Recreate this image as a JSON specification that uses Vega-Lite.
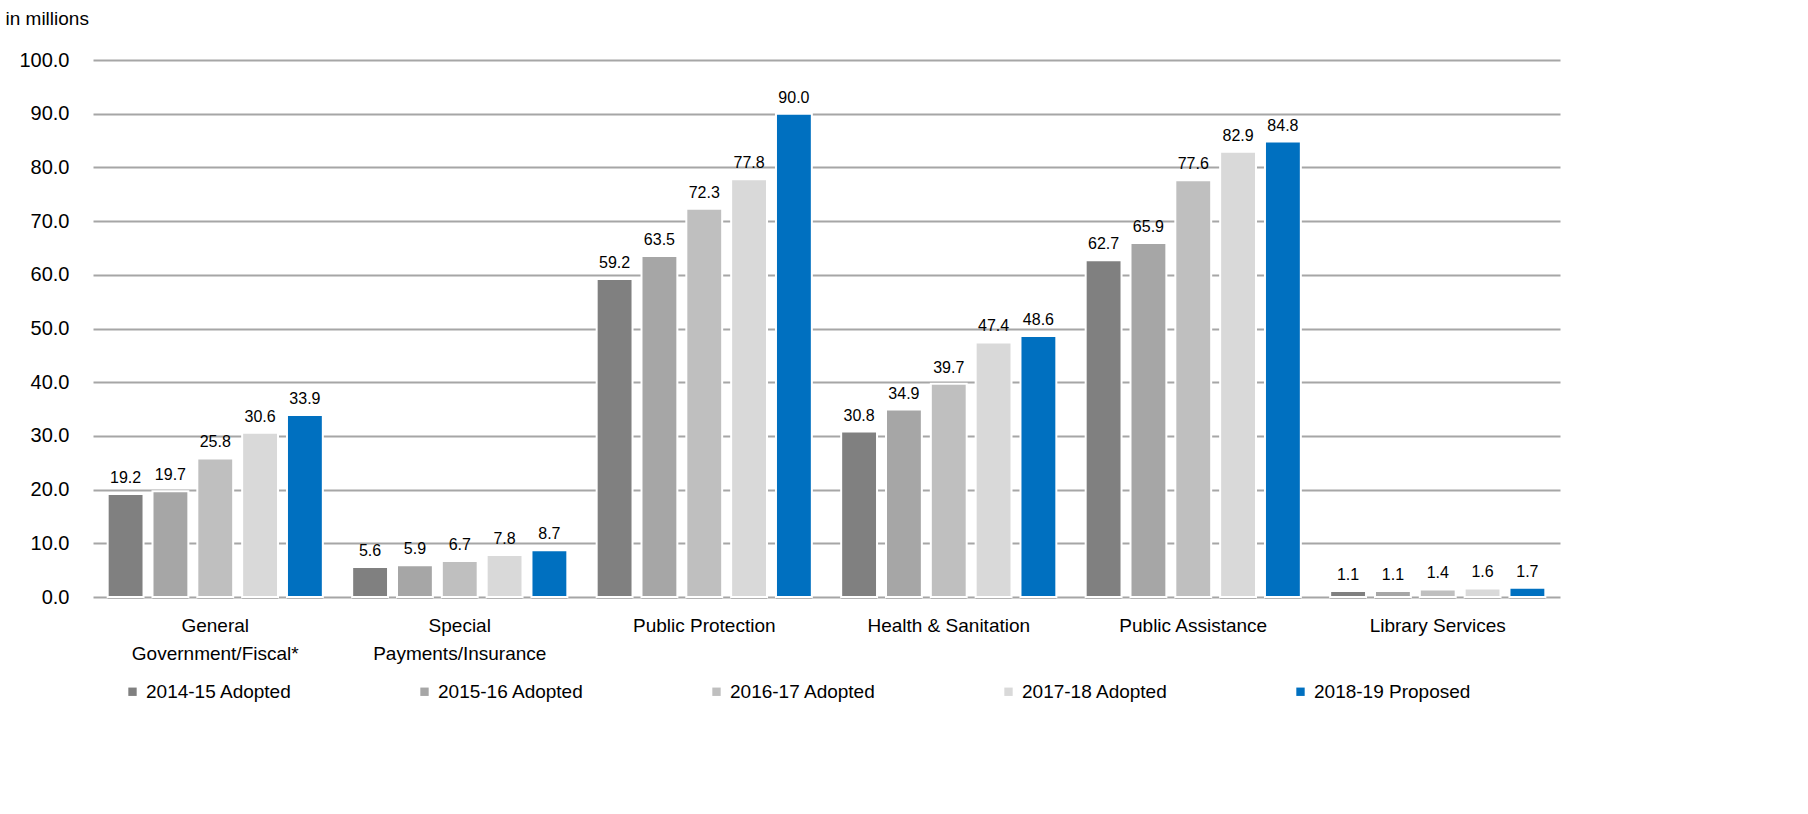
{
  "$schema": "https://vega.github.io/schema/vega-lite/v6.json",
  "autosize": {"type": "none"},
  "width": 1467,
  "height": 537,
  "padding": {"left": 93, "top": 60, "right": 248, "bottom": 217},
  "background": "white",
  "config": {"view": {"stroke": null}, "font": "Liberation Sans"},
  "title": {
    "text": "General Fund Appropriations Comparison",
    "fontSize": 32,
    "fontWeight": "bold",
    "font": "Liberation Sans",
    "anchor": "start",
    "frame": "group",
    "dx": 300,
    "offset": 36,
    "color": "black"
  },
  "data": {
    "values": [
      {"cat": "General Government/Fiscal*", "year": "2014-15 Adopted", "v": 19.2},
      {"cat": "General Government/Fiscal*", "year": "2015-16 Adopted", "v": 19.7},
      {"cat": "General Government/Fiscal*", "year": "2016-17 Adopted", "v": 25.8},
      {"cat": "General Government/Fiscal*", "year": "2017-18 Adopted", "v": 30.6},
      {"cat": "General Government/Fiscal*", "year": "2018-19 Proposed", "v": 33.9},
      {"cat": "Special Payments/Insurance", "year": "2014-15 Adopted", "v": 5.6},
      {"cat": "Special Payments/Insurance", "year": "2015-16 Adopted", "v": 5.9},
      {"cat": "Special Payments/Insurance", "year": "2016-17 Adopted", "v": 6.7},
      {"cat": "Special Payments/Insurance", "year": "2017-18 Adopted", "v": 7.8},
      {"cat": "Special Payments/Insurance", "year": "2018-19 Proposed", "v": 8.7},
      {"cat": "Public Protection", "year": "2014-15 Adopted", "v": 59.2},
      {"cat": "Public Protection", "year": "2015-16 Adopted", "v": 63.5},
      {"cat": "Public Protection", "year": "2016-17 Adopted", "v": 72.3},
      {"cat": "Public Protection", "year": "2017-18 Adopted", "v": 77.8},
      {"cat": "Public Protection", "year": "2018-19 Proposed", "v": 90.0},
      {"cat": "Health & Sanitation", "year": "2014-15 Adopted", "v": 30.8},
      {"cat": "Health & Sanitation", "year": "2015-16 Adopted", "v": 34.9},
      {"cat": "Health & Sanitation", "year": "2016-17 Adopted", "v": 39.7},
      {"cat": "Health & Sanitation", "year": "2017-18 Adopted", "v": 47.4},
      {"cat": "Health & Sanitation", "year": "2018-19 Proposed", "v": 48.6},
      {"cat": "Public Assistance", "year": "2014-15 Adopted", "v": 62.7},
      {"cat": "Public Assistance", "year": "2015-16 Adopted", "v": 65.9},
      {"cat": "Public Assistance", "year": "2016-17 Adopted", "v": 77.6},
      {"cat": "Public Assistance", "year": "2017-18 Adopted", "v": 82.9},
      {"cat": "Public Assistance", "year": "2018-19 Proposed", "v": 84.8},
      {"cat": "Library Services", "year": "2014-15 Adopted", "v": 1.1},
      {"cat": "Library Services", "year": "2015-16 Adopted", "v": 1.1},
      {"cat": "Library Services", "year": "2016-17 Adopted", "v": 1.4},
      {"cat": "Library Services", "year": "2017-18 Adopted", "v": 1.6},
      {"cat": "Library Services", "year": "2018-19 Proposed", "v": 1.7}
    ]
  },
  "encoding": {
    "x": {
      "field": "cat",
      "type": "nominal",
      "sort": null,
      "scale": {"paddingInner": 0.12, "paddingOuter": 0.06},
      "axis": {
        "title": null,
        "labelAngle": 0,
        "labelFontSize": 19,
        "labelColor": "black",
        "labelPadding": 19,
        "labelLineHeight": 28,
        "labelBaseline": "top",
        "labelLimit": 300,
        "ticks": false,
        "domain": false,
        "labelExpr": "datum.value == 'General Government/Fiscal*' ? ['General', 'Government/Fiscal*'] : datum.value == 'Special Payments/Insurance' ? ['Special', 'Payments/Insurance'] : datum.value"
      }
    },
    "xOffset": {
      "field": "year",
      "type": "nominal",
      "scale": {"paddingInner": 0.2, "paddingOuter": 0}
    },
    "y": {
      "field": "v",
      "type": "quantitative",
      "scale": {"domain": [0, 100]},
      "axis": {
        "values": [0, 10, 20, 30, 40, 50, 60, 70, 80, 90, 100],
        "format": ".1f",
        "labelFontSize": 20,
        "labelColor": "black",
        "labelPadding": 24,
        "ticks": false,
        "domain": false,
        "gridColor": "#A6A6A6",
        "gridWidth": 2,
        "title": "in millions",
        "titleAngle": 0,
        "titleAlign": "left",
        "titleBaseline": "alphabetic",
        "titleX": -88,
        "titleY": -36,
        "titleFontSize": 19,
        "titleFontWeight": "normal",
        "titleColor": "black"
      }
    }
  },
  "layer": [
    {
      "mark": {"type": "bar", "color": "#7a7a7a", "opacity": 0.35, "xOffset": 4, "yOffset": 2},
      "encoding": {}
    },
    {
      "mark": {"type": "bar", "stroke": "white", "strokeWidth": 2},
      "encoding": {
        "color": {
          "field": "year",
          "type": "nominal",
          "scale": {
            "domain": ["2014-15 Adopted", "2015-16 Adopted", "2016-17 Adopted", "2017-18 Adopted", "2018-19 Proposed"],
            "range": ["#808080", "#A6A6A6", "#BFBFBF", "#D9D9D9", "#0070C0"]
          },
          "legend": {
            "title": null,
            "orient": "none",
            "direction": "horizontal",
            "legendX": 30,
            "legendY": 622,
            "columns": 5,
            "gridAlign": "all",
            "columnPadding": 112,
            "symbolType": "square",
            "symbolSize": 70,
            "symbolStrokeWidth": 0,
            "labelFontSize": 19,
            "labelColor": "black",
            "labelOffset": 4,
            "labelLimit": 300
          }
        }
      }
    },
    {
      "mark": {"type": "text", "baseline": "bottom", "dy": -8, "fontSize": 16, "color": "black"},
      "encoding": {
        "text": {"field": "v", "type": "quantitative", "format": ".1f"}
      }
    }
  ]
}
